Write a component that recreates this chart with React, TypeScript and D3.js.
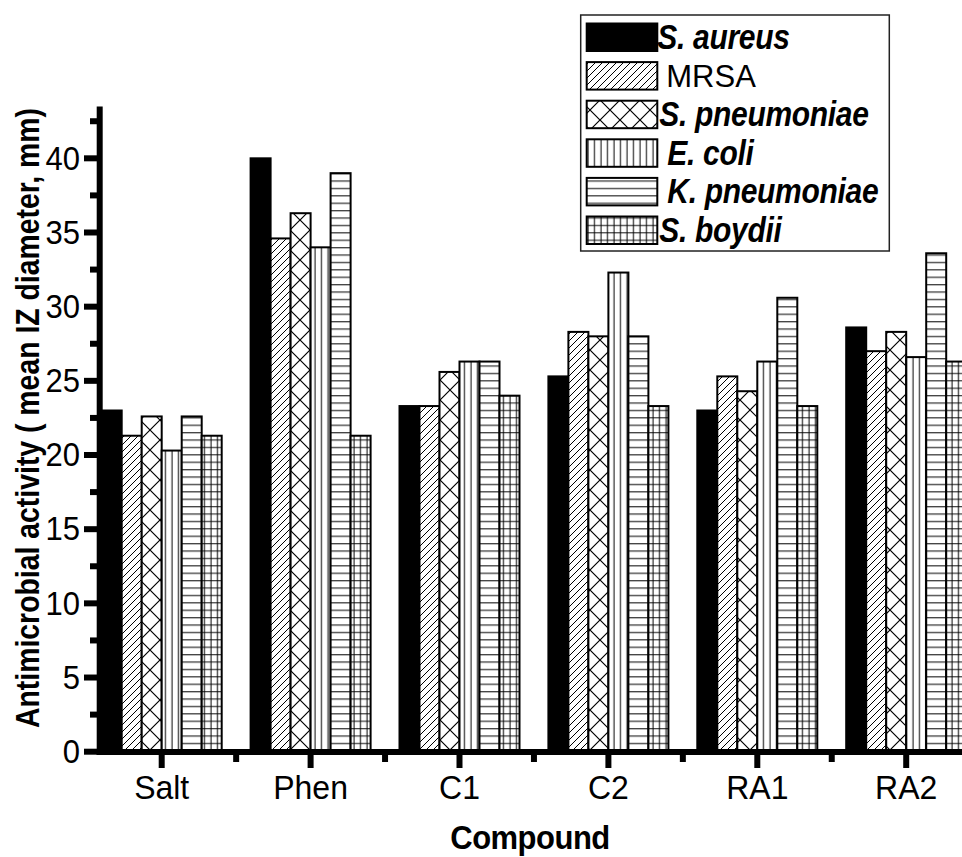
import React from "react";
import * as d3 from "d3";

const compounds = ["Salt", "Phen", "C1", "C2", "RA1", "RA2"];
const seriesNames = ["S. aureus", "MRSA", "S. pneumoniae", "E. coli", "K. pneumoniae", "S. boydii"];
const sAureus = [23.0, 40.0, 23.3, 25.3, 23.0, 28.6];
const mrsa = [21.3, 34.6, 23.3, 28.3, 25.3, 27.0];
const sPneumoniae = [22.6, 36.3, 25.6, 28.0, 24.3, 28.3];
const eColi = [20.3, 34.0, 26.3, 32.3, 26.3, 26.6];
const kPneumoniae = [22.6, 39.0, 26.3, 28.0, 30.6, 33.6];
const sBoydii = [21.3, 21.3, 24.0, 23.3, 23.3, 26.3];
const seriesValues = [sAureus, mrsa, sPneumoniae, eColi, kPneumoniae, sBoydii];
const yMajorTicks = [0, 5, 10, 15, 20, 25, 30, 35, 40];
const yMinorTicks = [2.5, 7.5, 12.5, 17.5, 22.5, 27.5, 32.5, 37.5, 42.5];

const W = 962;
const H = 857;
const FONT = "'Liberation Sans', Arial, sans-serif";

const fills = ["#000", "url(#pDiag)", "url(#pCross)", "url(#pVert)", "url(#pHoriz)", "url(#pGrid)"];
const legendItalic = [true, false, true, true, true, true];
const legendTextDx = [0, 9, 2, 10, 10, 2];

export default function App() {
  const y = d3.scaleLinear().domain([0, 43.5]).range([751.7, 106.4]);
  const x = d3.scaleLinear().domain([0, 5]).range([161.7, 161.7 + 5 * 148.9]);
  const barW = 20;
  const nS = seriesNames.length;
  const axisX = 99.7;
  const axisY = 752;
  const xMinor = d3.range(compounds.length + 1).map((i) => i - 0.5);

  const legX = 580.7, legY = 15, legW = 308.6, legH = 236;
  const swX = 586.7, swW = 70.6, swH = 27.5, rowTop = 23.5, rowPitch = 38.6;

  return (
    <svg
      width={W}
      height={H}
      style={{ position: "absolute", left: 0, top: 0, background: "#fff" }}
      fontFamily={FONT}
    >
      <defs>
        <pattern id="pDiag" patternUnits="userSpaceOnUse" width={7} height={7}>
          <rect width={7} height={7} fill="#fff" />
          <path d="M0,7 L7,0 M-1,1 L1,-1 M6,8 L8,6" stroke="#000" strokeWidth={1} />
        </pattern>
        <pattern id="pCross" patternUnits="userSpaceOnUse" width={20} height={20}>
          <rect width={20} height={20} fill="#fff" />
          <path d="M0,0 L20,20 M0,20 L20,0" stroke="#000" strokeWidth={1.2} />
        </pattern>
        <pattern id="pVert" patternUnits="userSpaceOnUse" width={6.5} height={10}>
          <rect width={6.5} height={10} fill="#fff" />
          <path d="M3,0 L3,10" stroke="#000" strokeWidth={1} />
        </pattern>
        <pattern id="pHoriz" patternUnits="userSpaceOnUse" width={10} height={7.4}>
          <rect width={10} height={7.4} fill="#fff" />
          <path d="M0,3.5 L10,3.5" stroke="#000" strokeWidth={1} />
        </pattern>
        <pattern id="pGrid" patternUnits="userSpaceOnUse" width={6.5} height={7.4}>
          <rect width={6.5} height={7.4} fill="#fff" />
          <path d="M3,0 L3,7.4 M0,3.5 L6.5,3.5" stroke="#000" strokeWidth={1} />
        </pattern>
      </defs>

      {/* bars */}
      {compounds.map((c, i) => (
        <g key={c}>
          {seriesValues.map((vals, j) => {
            const x0 = x(i) - (nS * barW) / 2 + j * barW;
            const yTop = y(vals[i]);
            return (
              <rect
                key={j}
                x={x0}
                y={yTop}
                width={barW}
                height={y(0) - yTop}
                fill={fills[j]}
                stroke="#000"
                strokeWidth={2}
              />
            );
          })}
        </g>
      ))}

      {/* y axis */}
      <line x1={axisX} x2={axisX} y1={y(43.5)} y2={axisY + 3} stroke="#000" strokeWidth={6} />
      {yMajorTicks.map((t) => (
        <g key={"ym" + t}>
          <line x1={84} x2={axisX} y1={y(t)} y2={y(t)} stroke="#000" strokeWidth={6} />
          <text
            transform={`translate(80,${y(t) + 11.3}) scale(1,1.06)`}
            textAnchor="end"
            fontSize={31}
          >
            {t}
          </text>
        </g>
      ))}
      {yMinorTicks.map((t) => (
        <line key={"yn" + t} x1={90} x2={axisX} y1={y(t)} y2={y(t)} stroke="#000" strokeWidth={6} />
      ))}

      {/* x axis */}
      <line x1={axisX - 3} x2={W + 10} y1={axisY} y2={axisY} stroke="#000" strokeWidth={6} />
      {compounds.map((c, i) => (
        <g key={"xt" + c}>
          <line x1={x(i)} x2={x(i)} y1={axisY} y2={768} stroke="#000" strokeWidth={6} />
          <text
            transform={`translate(${x(i)},798.5) scale(1,1.02)`}
            textAnchor="middle"
            fontSize={32}
          >
            {c}
          </text>
        </g>
      ))}
      {xMinor
        .filter((v) => x(v) > axisX + 5)
        .map((v) => (
          <line key={"xn" + v} x1={x(v)} x2={x(v)} y1={axisY} y2={762} stroke="#000" strokeWidth={6} />
        ))}

      {/* axis titles */}
      <text
        transform="translate(530,849) scale(1,1.05)"
        textAnchor="middle"
        fontSize={31}
        fontWeight="bold"
        letterSpacing={-0.5}
      >
        Compound
      </text>
      <text
        transform={`translate(38.5,418) rotate(-90) scale(1,1.08)`}
        textAnchor="middle"
        fontSize={31}
        fontWeight="bold"
        textLength={620}
        lengthAdjust="spacingAndGlyphs"
      >
        Antimicrobial activity ( mean IZ diameter, mm)
      </text>

      {/* legend */}
      <rect x={legX} y={legY} width={legW} height={legH} fill="#fff" stroke="#222" strokeWidth={1.5} />
      {seriesNames.map((s, j) => {
        const top = rowTop + j * rowPitch;
        const it = legendItalic[j];
        return (
          <g key={"lg" + s}>
            <rect x={swX} y={top} width={swW} height={swH} fill={fills[j]} stroke="#000" strokeWidth={2} />
            <text
              transform={`translate(${swX + swW + legendTextDx[j]},${top + swH / 2 + 11.5}) scale(1,${it ? 1.17 : 1.02})`}
              fontSize={it ? 30 : 31}
              fontWeight={it ? "bold" : "normal"}
              fontStyle={it ? "italic" : "normal"}
              letterSpacing={it ? -0.3 : 0}
            >
              {s}
            </text>
          </g>
        );
      })}
    </svg>
  );
}
